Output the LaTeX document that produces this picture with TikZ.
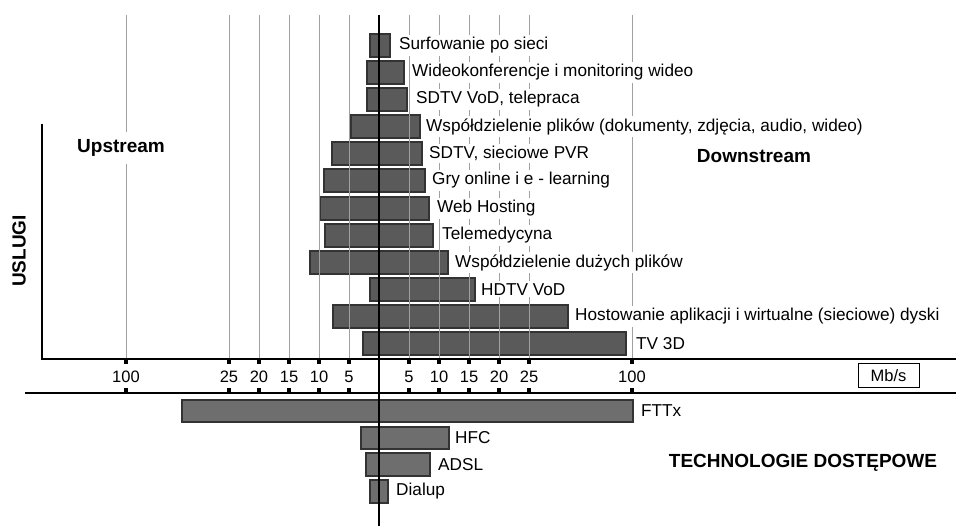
\documentclass[tikz,border=0pt]{standalone}
\usepackage{fontspec}
\setmainfont{Liberation Sans}
\usepackage{tikz}

\definecolor{barfill}{HTML}{5A5A5A}
\definecolor{techfill}{HTML}{6E6E6E}
\definecolor{barline}{HTML}{333333}
\definecolor{gridgray}{HTML}{A0A0A0}

\begin{document}
\begin{tikzpicture}[x=1pt,y=-1pt,
  bar/.style={draw=barline,line width=1.2pt,fill=barfill},
  techbar/.style={draw=barline,line width=1.2pt,fill=techfill},
  gridline/.style={gridgray,line width=1pt},
  lbl/.style={anchor=west,fill=white,inner sep=2pt,font=\fontsize{17.2}{19}\selectfont},
  axlbl/.style={inner sep=1pt,font=\fontsize{16.5}{18}\selectfont},
  title/.style={fill=white,inner sep=7pt,font=\fontsize{19}{21}\selectfont\bfseries}]
\useasboundingbox (0,0) rectangle (956,526);
% uslugi
\draw [bar] (370,34) rectangle (390,57);
\draw [bar] (367,61) rectangle (404,84);
\draw [bar] (367,88) rectangle (407,111);
\draw [bar] (351,115) rectangle (420,138);
\draw [bar] (332,142) rectangle (422,165);
\draw [bar] (324,169) rectangle (425,192);
\draw [bar] (320,197) rectangle (429,220);
\draw [bar] (325,224) rectangle (433,247);
\draw [bar] (310,251) rectangle (448,274);
\draw [bar] (370,278) rectangle (475,301);
\draw [bar] (333,305) rectangle (568,328);
\draw [bar] (363,332) rectangle (626,355);
% technologie
\draw [techbar] (182,400) rectangle (633,422);
\draw [techbar] (361,427) rectangle (449,449);
\draw [techbar] (366,453) rectangle (430,476);
\draw [techbar] (370,480) rectangle (388,503);
% skala
\foreach \x/\v [count=\k] in {126/100,229/25,259/20,289/15,319/10,349/5,409/5,439/10,469/15,499/20,529/25,632/100} {
  \draw [gridline] (\x,15) -- (\x,359);
  \fill [black] (\x-2,359) rectangle (\x+2,364);
  \fill [black] (\x-2,388) rectangle (\x+2,393);
  \node (tick\k) [axlbl] at (\x,377) {\v};
}
\node (surf) [lbl] at (397,45.5) {Surfowanie po sieci};
\node (wideo) [lbl] at (410,72.5) {Wideokonferencje i monitoring wideo};
\node (sdtvvod) [lbl] at (414,99.5) {SDTV VoD, telepraca};
\node (pliki) [lbl] at (424,126.5) {Współdzielenie plików (dokumenty, zdjęcia, audio, wideo)};
\node (pvr) [lbl] at (427,153.5) {SDTV, sieciowe PVR};
\node (gry) [lbl] at (430,180.5) {Gry online i e - learning};
\node (web) [lbl] at (435,208.5) {Web Hosting};
\node (tele) [lbl] at (440,235.5) {Telemedycyna};
\node (duze) [lbl] at (453,262.5) {Współdzielenie dużych plików};
\node (hdtv) [lbl] at (479,289.5) {HDTV VoD};
\node (host) [lbl] at (573,316.5) {Hostowanie aplikacji i wirtualne (sieciowe) dyski};
\node (tv3d) [lbl] at (634,343.5) {TV 3D};
\node (fttx) [lbl] at (639,411) {FTTx};
\node (hfc) [lbl] at (453,438) {HFC};
\node (adsl) [lbl] at (436,464.5) {ADSL};
\node (dial) [lbl] at (394,491.5) {Dialup};
\node (up) [title] at (121,148) {Upstream};
\node (down) [title] at (754,156) {Downstream};
\node (uslugi) [title,fill=none,rotate=90] at (19,251) {USLUGI};
\node (tech) [title,fill=none] at (803,463) {TECHNOLOGIE DOSTĘPOWE};
\node (unit) [draw,line width=1pt,minimum width=61pt,minimum height=24pt,inner sep=0pt,font=\fontsize{16.5}{18}\selectfont] at (888.5,376) {Mb/s};
% osie
\draw [black,line width=2pt] (42,124) -- (42,359) -- (956,359);
\draw [black,line width=2pt] (25,393) -- (956,393);
\draw [black,line width=2pt] (379,15) -- (379,526);
\end{tikzpicture}
\end{document}
